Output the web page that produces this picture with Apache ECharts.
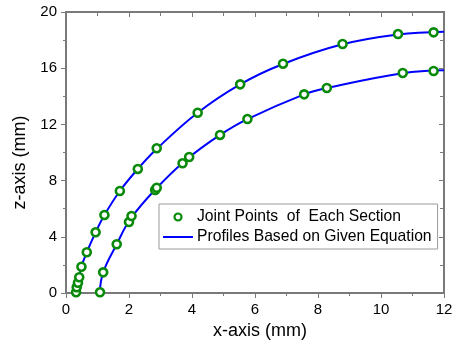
<!DOCTYPE html>
<html>
<head>
<meta charset="utf-8">
<script src="https://cdn.jsdelivr.net/npm/echarts@6/dist/echarts.min.js"></script>
<style>
  html, body { margin: 0; padding: 0; background: #fff; }
  #chart { width: 456px; height: 345px; }
</style>
</head>
<body>
<div id="chart"></div>
<script>
// joint points, [x, z] in mm
const outerPoints = [
  [0.32, 0.05], [0.34, 0.41], [0.38, 0.73], [0.42, 1.12], [0.49, 1.87],
  [0.66, 2.90], [0.94, 4.32], [1.22, 5.55], [1.71, 7.26], [2.28, 8.83],
  [2.88, 10.30], [4.18, 12.83], [5.53, 14.85], [6.89, 16.32], [8.78, 17.72],
  [10.54, 18.43], [11.67, 18.55]
];
const innerPoints = [
  [1.08, 0.05], [1.18, 1.47], [1.61, 3.47], [2.00, 5.05], [2.08, 5.48],
  [2.83, 7.33], [2.88, 7.49], [3.70, 9.23], [3.91, 9.68], [4.89, 11.25],
  [5.76, 12.38], [7.56, 14.14], [8.28, 14.59], [10.69, 15.66], [11.67, 15.80]
];
// profile curves
const outerProfile = [
  [0.31, 0], [0.38, 0.73], [0.49, 1.87], [0.66, 2.90], [0.94, 4.32],
  [1.22, 5.55], [1.71, 7.26], [2.28, 8.83], [2.90, 10.30], [4.18, 12.83],
  [5.53, 14.85], [6.89, 16.30], [8.78, 17.70], [10.54, 18.40], [12, 18.60]
];
const innerProfile = [
  [1.07, 0], [1.18, 1.47], [1.61, 3.47], [2.04, 5.25], [2.85, 7.40],
  [3.80, 9.45], [4.89, 11.25], [5.76, 12.38], [7.56, 14.14], [8.28, 14.59],
  [10.69, 15.64], [12, 15.85]
];
const pointsName = 'Joint Points  of  Each Section';
const profileName = 'Profiles Based on Given Equation';

const axisColor = '#7a7a7a';
const green = '#0a8a0a';
const blue = '#0000ff';
const font = 'Liberation Sans, Arial, sans-serif';

const chart = echarts.init(document.getElementById('chart'));

const baseAxis = {
  type: 'value',
  axisLine: { show: true, onZero: false, lineStyle: { color: axisColor, width: 2 } },
  splitLine: { show: false },
  minorTick: { show: true, splitNumber: 2, length: 3, lineStyle: { color: axisColor, width: 1 } },
  axisTick: { show: true, length: 5, lineStyle: { color: axisColor, width: 1 } },
};

const lineSeries = (data) => ({
  name: profileName, type: 'line', data,
  smooth: 0.4, symbol: 'none', z: 2,
  lineStyle: { color: blue, width: 2 }, itemStyle: { color: blue },
});
const pointSeries = (data) => ({
  name: pointsName, type: 'scatter', data,
  symbol: 'circle', symbolSize: 8, z: 3,
  itemStyle: { color: '#fff', borderColor: green, borderWidth: 2.6, opacity: 1 },
});

chart.setOption({
  animation: false,
  grid: { left: 66, right: 12, top: 12, bottom: 52 },
  xAxis: [
    {
      ...baseAxis,
      position: 'bottom',
      min: 0, max: 12, interval: 2,
      axisLabel: { margin: 9, fontSize: 15, color: '#000', fontFamily: font },
      name: 'x-axis (mm)',
      nameLocation: 'middle',
      nameGap: 29,
      nameTextStyle: { fontSize: 18, color: '#000', fontFamily: font, padding: [0, 0, 0, 10] },
    },
    {
      ...baseAxis,
      position: 'top',
      min: 0, max: 12, interval: 2,
      axisTick: { ...baseAxis.axisTick, inside: true },
      minorTick: { ...baseAxis.minorTick, length: 4 },
      axisLabel: { show: false },
    },
  ],
  yAxis: [
    {
      ...baseAxis,
      position: 'left',
      min: 0, max: 20, interval: 4,
      axisLabel: { margin: 9, fontSize: 15, color: '#000', fontFamily: font },
      name: 'z-axis (mm)',
      nameLocation: 'middle',
      nameGap: 33,
      nameTextStyle: { fontSize: 18, color: '#000', fontFamily: font, padding: [0, 20, 0, 0] },
    },
    {
      ...baseAxis,
      position: 'right',
      min: 0, max: 20, interval: 4,
      axisTick: { ...baseAxis.axisTick, inside: true },
      minorTick: { ...baseAxis.minorTick, length: 4 },
      axisLabel: { show: false },
    },
  ],
  legend: {
    orient: 'vertical',
    left: 159,
    top: 204,
    width: 276,
    data: [
      { name: pointsName, icon: 'circle', itemStyle: { color: '#fff', borderColor: green, borderWidth: 2.2 } },
      { name: profileName, itemStyle: { opacity: 0 } },
    ],
    itemWidth: 30,
    itemHeight: 7,
    itemGap: 4,
    padding: [5, 6, 4, 3],
    backgroundColor: '#fff',
    borderColor: '#9a9a9a',
    borderWidth: 1,
    borderRadius: 0,
    textStyle: { fontSize: 15.7, color: '#000', fontFamily: font, padding: [0, 0, 0, -1] },
    selectedMode: false,
  },
  series: [
    lineSeries(outerProfile),
    lineSeries(innerProfile),
    pointSeries(outerPoints),
    pointSeries(innerPoints),
  ],
});
</script>
</body>
</html>
